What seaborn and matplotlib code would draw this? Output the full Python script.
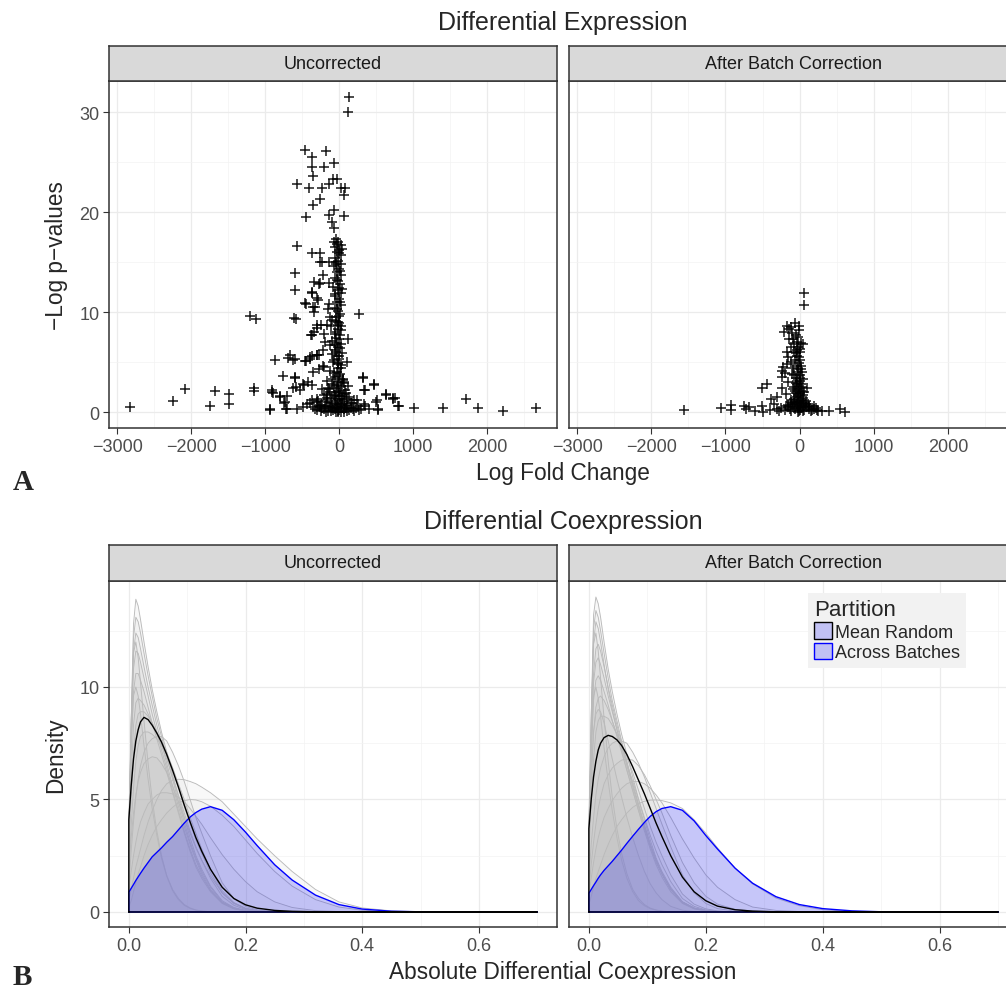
import pandas as pd
import seaborn as sns
import matplotlib.pyplot as plt
from matplotlib.patches import Patch
from matplotlib.ticker import MultipleLocator, FormatStrFormatter

# ---------------- data ----------------
# Differential expression: (log fold change, -log p) for each gene
unc_points = [
    (-2831, 0.5), (-2239, 1.1), (-2085, 2.3), (-1748, 0.6), (-1680, 2.1), (-1493, 1.8), (-1483, 0.8),
    (-1208, 9.6), (-1127, 9.3), (-1146, 2.4), (-1146, 2.1), (-939, 0.3), (-910, 2.2), (-891, 1.9),
    (-871, 5.2), (-804, 1.6), (-761, 3.6), (-746, 0.9), (-722, 0.3), (-684, 5.4), (-664, 5.7),
    (-602, 5.3), (-602, 13.9), (-602, 12.2), (-616, 9.4), (-578, 9.3), (-563, 16.6), (-563, 22.8),
    (-597, 3.4), (-583, 2.5), (-467, 26.2), (-361, 25.5), (-361, 24.5), (-351, 23.6), (-448, 19.5),
    (-409, 22.4), (-351, 20.7), (-260, 21.3), (-178, 26.1), (-207, 24.5), (-231, 22.4), (-130, 22.8),
    (-63, 24.9), (-77, 23.3), (-34, 23.3), (24, 22.4), (82, 22.4), (63, 21.7), (-63, 20.2), (63, 19.6),
    (-135, 19.7), (-96, 19.0), (-72, 18.4), (135, 31.5), (125, 30.0),
    (-361, 15.9), (-260, 15.9), (-255, 15.0), (-135, 15.0), (-337, 13.0), (-274, 12.8), (-371, 11.9),
    (-457, 10.9), (-351, 10.5), (-299, 11.4), (-376, 7.7), (-337, 8.0), (-303, 8.7), (-250, 8.7),
    (-207, 7.8), (265, 9.8), (-453, 5.1), (-395, 5.3), (-366, 5.6), (-303, 5.7), (-274, 5.7),
    (-217, 6.2), (-202, 4.5), (-347, 4.0), (-419, 3.0), (-481, 2.7), (323, 3.4), (347, 2.2),
    (477, 2.7), (640, 1.7), (722, 1.4), (761, 1.4), (804, 0.6), (1011, 0.4), (1406, 0.4), (1714, 1.3),
    (1878, 0.4), (2220, 0.1), (2667, 0.4), (530, 0.3), (506, 1.2),
    (-234, 15.0), (-216, 13.7), (-257, 12.9), (-369, 12.0), (-446, 10.8), (-324, 10.5), (-288, 11.2),
    (-338, 10.0), (-144, 10.3), (-122, 9.5), (-369, 7.7), (-302, 8.4), (-158, 8.7), (-189, 7.0),
    (-122, 6.7), (126, 7.3), (104, 5.0), (59, 3.3), (329, 3.5), (473, 2.8), (342, 2.2), (635, 1.8),
    (733, 1.3), (802, 0.6), (-595, 3.5), (-617, 5.2), (-459, 5.1), (-392, 5.5), (-302, 5.7),
    (-266, 4.3), (-212, 4.6), (-617, 2.4), (-527, 2.2), (-482, 2.8), (-369, 2.7), (-698, 1.6),
    (-797, 1.5), (-910, 2.0), (-730, 1.0), (-707, 0.3), (-572, 0.3), (-482, 0.5), (-932, 0.25),
    (-302, 1.3), (-257, 0.5), (-369, 1.2), (-437, 0.8), (-167, 1.8), (239, 1.2), (342, 0.8),
    (500, 1.0), (410, 0.3), (522, 0.25),
    (-40, 17.3), (-10, 17.0), (20, 16.7), (-60, 16.5), (0, 16.2), (-30, 16.0), (30, 15.7), (-50, 15.4),
    (-10, 15.1), (20, 14.8), (-70, 14.6), (0, 14.3), (-30, 14.0), (30, 13.7), (-50, 13.4), (-10, 13.1),
    (10, 12.8), (-80, 12.5), (-20, 12.2), (20, 11.9), (-50, 11.6), (0, 11.3), (-30, 11.0), (30, 10.7),
    (-60, 10.4), (-10, 10.1), (10, 9.8), (-40, 9.5), (-90, 9.2), (0, 8.9), (30, 8.6), (-20, 8.3),
    (-60, 8.0), (10, 7.7), (-40, 7.4), (-100, 7.1), (20, 6.8), (-10, 6.5), (-60, 6.2), (40, 5.9),
    (-30, 5.6), (0, 5.3), (-80, 5.0), (30, 4.7), (-20, 4.4), (-120, 4.1), (10, 3.8), (-50, 3.5),
    (50, 3.2), (-10, 3.0), (-90, 2.8), (20, 2.6), (-150, 2.4), (80, 2.2), (-40, 2.0), (0, 1.9),
    (-200, 1.7), (40, 1.6), (130, 1.5), (-100, 1.4), (-20, 1.3), (200, 1.2), (70, 1.1), (-160, 1.0),
    (10, 0.9), (-60, 0.8), (-250, 0.7), (110, 0.7), (250, 0.6), (-120, 0.5), (30, 0.5), (-30, 0.4),
    (160, 0.4), (-200, 0.3), (60, 0.3), (-80, 0.2), (0, 0.2), (-300, 0.2), (300, 0.3), (100, 0.1),
    (-150, 0.1), (20, 0.05), (-40, 0.05), (200, 0.1), (-250, 0.1), (-350, 0.5), (350, 0.6), (-10, 0.0),
    (-280, 1.1), (170, 0.9), (-60, 1.6), (60, 2.9), (-70, 3.9), (-20, 4.9), (-50, 6.7), (-20, 9.0),
    (40, 12.3), (-40, 14.8), (-70, 17.0), (40, 16.3), (-90, 5.8), (-110, 8.6), (-140, 10.8),
    (-130, 12.9), (-160, 3.1), (-120, 2.0), (-180, 1.2), (120, 2.6), (90, 1.9), (-230, 2.3),
    (-300, 1.0), (230, 0.4),
    (-25, 16.8), (5, 15.9), (-45, 15.0), (15, 14.1), (-35, 13.2), (-5, 12.4), (-55, 11.8), (15, 11.0),
    (-25, 10.3), (5, 9.6), (-45, 9.1), (-15, 8.7), (25, 8.2), (-55, 7.8), (-5, 7.3), (-25, 6.9),
    (15, 6.4), (-45, 6.0), (5, 5.6), (-65, 5.2), (-15, 4.8), (25, 4.4), (-35, 4.0), (-5, 3.6),
    (-85, 3.3), (35, 3.0), (-25, 2.7), (-130, 2.3), (5, 2.1), (60, 1.8), (-70, 1.7), (-170, 1.4),
    (100, 1.3), (-40, 1.1), (160, 0.9), (-110, 0.9), (40, 0.8), (-190, 0.6), (80, 0.6), (-10, 0.55),
    (190, 0.3), (-60, 0.35), (-230, 0.4), (130, 0.2), (-110, 0.15), (-20, 0.15), (60, 0.05),
    (-180, 0.05), (270, 0.2), (-330, 0.3), (-15, 2.4), (-65, 2.6), (35, 1.3), (-140, 0.6), (-90, 0.45),
    (10, 1.6), (-30, 0.7), (90, 0.4), (-270, 0.6), (-400, 0.9),
]

bc_points = [
    (-1561, 0.2), (-1066, 0.4), (-922, 0.7), (-931, 0.2), (-751, 0.6), (-729, 0.3), (-684, 0.5),
    (-603, 0.1), (-504, 2.4), (-436, 2.8), (-508, 0.6), (-495, 0.0), (-391, 1.3), (-301, 1.5),
    (-243, 2.4), (-243, 4.1), (-234, 3.5), (-220, 4.5), (-211, 8.0), (-175, 8.6), (-139, 8.3),
    (-121, 8.5), (-58, 8.9), (-13, 8.6), (-144, 7.3), (-90, 7.3), (-22, 7.5), (13, 6.9), (45, 6.8),
    (-175, 6.0), (-121, 6.5), (58, 11.9), (58, 10.7), (103, 2.4), (238, 0.2), (306, 0.1), (400, 0.1),
    (544, 0.3), (607, 0.0), (216, 0.4), (126, 0.6),
    (-20, 6.5), (0, 6.0), (-30, 5.6), (10, 5.2), (-10, 4.9), (-40, 4.6), (20, 4.3), (-20, 4.0),
    (0, 3.7), (-50, 3.4), (10, 3.1), (-30, 2.8), (30, 2.5), (-10, 2.3), (-60, 2.1), (0, 1.9),
    (40, 1.7), (-30, 1.5), (-80, 1.3), (20, 1.2), (-10, 1.0), (60, 0.9), (-100, 0.8), (0, 0.7),
    (-40, 0.6), (90, 0.5), (-150, 0.5), (20, 0.4), (-60, 0.3), (130, 0.3), (-200, 0.2), (0, 0.2),
    (40, 0.1), (-20, 0.05), (-250, 0.4), (170, 0.2), (-120, 1.0), (80, 1.1), (-80, 2.5), (-100, 3.8),
    (50, 3.3), (-120, 5.0), (-70, 6.0), (-150, 3.0), (-180, 1.8), (-300, 0.3), (-350, 0.8),
    (-400, 0.2), (200, 0.6), (250, 0.1), (-40, 7.0), (10, 6.3), (-60, 5.2), (30, 4.0), (-90, 4.4),
    (-50, 2.9), (-20, 1.8), (60, 2.0), (-70, 0.9), (110, 0.8), (-130, 0.3), (30, 0.9),
    (-30, 6.2), (-10, 5.5), (-50, 5.9), (15, 4.6), (-25, 4.3), (-70, 3.7), (5, 3.4), (-40, 3.1),
    (25, 2.8), (-15, 2.6), (-90, 2.3), (15, 2.1), (-50, 1.9), (-25, 1.6), (50, 1.4), (-110, 1.2),
    (5, 1.1), (-60, 1.0), (80, 0.8), (-30, 0.8), (-160, 0.7), (40, 0.6), (-90, 0.5), (120, 0.5),
    (-20, 0.4), (-120, 0.15), (60, 0.25), (-280, 0.1), (150, 0.1), (-10, 0.1), (-190, 0.6),
    (190, 0.3), (-55, 7.7), (-5, 8.2), (-100, 7.9), (-80, 6.8), (-150, 5.5), (-170, 4.8), (-200, 3.9),
]

# Differential coexpression: density curves sampled on a common grid
grid = [0, .004, .008, .012, .016, .02, .026, .033, .04, .048, .056, .065, .075, .085, .095, .105,
        .115, .125, .14, .16, .18, .2, .22, .25, .28, .32, .36, .4, .45, .5, .6, .7]

unc_black = [4.1, 5.6, 6.8, 7.6, 8.1, 8.45, 8.65, 8.55, 8.3, 7.95, 7.55, 7.0, 6.3, 5.55, 4.75, 4.0,
             3.3, 2.7, 1.9, 1.1, 0.6, 0.32, 0.17, 0.07, 0.03, 0.01]
unc_blue = [0.88, 1.05, 1.22, 1.4, 1.56, 1.72, 1.95, 2.2, 2.45, 2.65, 2.85, 3.1, 3.35, 3.65, 3.95,
            4.22, 4.42, 4.57, 4.68, 4.52, 4.1, 3.55, 2.95, 2.1, 1.42, 0.75, 0.33, 0.13, 0.035, 0.008]
unc_gray = [
    [3.0, 8.5, 12.8, 13.9, 13.6, 13.0, 12.0, 10.9, 9.9, 8.9, 8.0, 7.1, 6.1, 5.1, 4.2, 3.3, 2.5, 1.9, 1.15, 0.5, 0.2, 0.07, 0.02],
    [3.2, 8.3, 12.2, 13.1, 12.9, 12.4, 11.5, 10.5, 9.6, 8.6, 7.8, 6.9, 5.9, 4.9, 4.0, 3.1, 2.4, 1.8, 1.1, 0.45, 0.18, 0.06, 0.02],
    [3.4, 8.0, 11.6, 12.4, 12.2, 11.7, 10.9, 10.0, 9.2, 8.3, 7.5, 6.6, 5.6, 4.7, 3.8, 3.0, 2.3, 1.7, 1.0, 0.42, 0.16, 0.05, 0.02],
    [3.5, 7.6, 10.8, 11.6, 11.5, 11.1, 10.4, 9.6, 8.8, 8.0, 7.2, 6.4, 5.4, 4.5, 3.6, 2.8, 2.1, 1.6, 0.95, 0.4, 0.15, 0.05, 0.01],
    [3.6, 7.2, 9.8, 10.6, 10.6, 10.3, 9.8, 9.1, 8.4, 7.7, 7.0, 6.2, 5.3, 4.4, 3.5, 2.7, 2.0, 1.5, 0.9, 0.38, 0.14, 0.05, 0.01],
    [3.0, 6.0, 8.3, 9.3, 9.5, 9.4, 9.2, 8.8, 8.4, 7.9, 7.4, 6.8, 6.0, 5.2, 4.4, 3.6, 2.9, 2.3, 1.5, 0.7, 0.3, 0.11, 0.04, 0.01],
    [2.5, 5.0, 7.0, 8.3, 8.8, 8.9, 8.9, 8.7, 8.4, 8.0, 7.6, 7.1, 6.4, 5.6, 4.8, 4.0, 3.2, 2.6, 1.75, 0.85, 0.38, 0.15, 0.05, 0.01],
    [1.8, 3.8, 5.5, 6.7, 7.4, 7.8, 8.0, 8.0, 7.9, 7.7, 7.4, 7.0, 6.4, 5.7, 5.0, 4.2, 3.5, 2.8, 1.9, 0.95, 0.42, 0.17, 0.06, 0.01],
    [1.2, 2.7, 4.0, 5.1, 5.9, 6.5, 7.1, 7.5, 7.7, 7.8, 7.8, 7.6, 7.1, 6.5, 5.8, 5.0, 4.2, 3.5, 2.5, 1.3, 0.6, 0.25, 0.1, 0.02],
    [0.5, 1.0, 1.5, 2.0, 2.4, 2.8, 3.4, 4.0, 4.5, 5.0, 5.4, 5.7, 5.85, 5.9, 5.88, 5.8, 5.7, 5.55, 5.3, 4.9, 4.35, 3.8, 3.25, 2.5, 1.8, 1.0, 0.45, 0.18, 0.05, 0.01],
    [1.0, 1.8, 2.5, 3.1, 3.6, 4.0, 4.4, 4.8, 5.0, 5.2, 5.3, 5.3, 5.25, 5.1, 4.9, 4.6, 4.25, 3.9, 3.3, 2.55, 1.9, 1.35, 0.9, 0.45, 0.2, 0.06, 0.02],
    [0.2, 0.5, 0.9, 1.3, 1.7, 2.0, 2.5, 3.0, 3.4, 3.8, 4.1, 4.4, 4.65, 4.85, 4.95, 5.0, 4.98, 4.9, 4.7, 4.3, 3.8, 3.2, 2.6, 1.8, 1.15, 0.55, 0.22, 0.08, 0.02],
    [2.0, 3.3, 4.4, 5.2, 5.8, 6.2, 6.6, 6.8, 6.9, 6.85, 6.6, 6.2, 5.6, 4.9, 4.2, 3.5, 2.85, 2.3, 1.6, 0.85, 0.4, 0.16, 0.06, 0.01],
    [4.0, 8.5, 11.5, 12.0, 11.3, 10.2, 8.5, 6.6, 5.0, 3.6, 2.5, 1.6, 0.95, 0.55, 0.3, 0.16, 0.08, 0.04, 0.01],
    [3.8, 7.5, 9.6, 10.0, 9.6, 8.8, 7.4, 5.9, 4.6, 3.4, 2.4, 1.6, 1.0, 0.6, 0.33, 0.18, 0.09, 0.04, 0.01],
]

bc_black = [3.7, 5.0, 6.0, 6.7, 7.2, 7.5, 7.75, 7.85, 7.8, 7.65, 7.4, 7.0, 6.45, 5.85, 5.25, 4.6,
            3.95, 3.35, 2.5, 1.55, 0.9, 0.5, 0.26, 0.1, 0.04, 0.01]
bc_blue = [0.83, 1.0, 1.17, 1.33, 1.5, 1.65, 1.85, 2.05, 2.25, 2.5, 2.75, 3.05, 3.37, 3.68, 3.98, 4.25,
           4.46, 4.6, 4.68, 4.52, 4.05, 3.4, 2.8, 1.95, 1.28, 0.68, 0.33, 0.15, 0.05, 0.01]
bc_gray = [
    [3.0, 8.6, 13.2, 14.0, 13.7, 13.1, 12.0, 10.8, 9.8, 8.8, 7.9, 7.0, 6.0, 5.0, 4.1, 3.2, 2.4, 1.8, 1.1, 0.45, 0.18, 0.06, 0.02],
    [3.1, 8.3, 12.6, 13.4, 13.1, 12.5, 11.5, 10.4, 9.4, 8.5, 7.6, 6.7, 5.7, 4.8, 3.9, 3.0, 2.3, 1.7, 1.0, 0.42, 0.16, 0.05, 0.02],
    [3.3, 7.5, 10.6, 11.7, 11.9, 11.6, 10.9, 10.0, 9.2, 8.3, 7.5, 6.6, 5.6, 4.7, 3.8, 3.0, 2.3, 1.7, 1.0, 0.42, 0.16, 0.05, 0.02],
    [3.5, 7.3, 10.2, 11.1, 11.3, 11.0, 10.4, 9.6, 8.9, 8.1, 7.4, 6.5, 5.6, 4.7, 3.8, 3.0, 2.3, 1.7, 1.05, 0.45, 0.17, 0.06, 0.02],
    [3.4, 6.8, 9.4, 10.3, 10.5, 10.3, 9.8, 9.2, 8.5, 7.8, 7.1, 6.3, 5.4, 4.5, 3.7, 2.9, 2.2, 1.7, 1.0, 0.45, 0.17, 0.06, 0.02],
    [3.0, 5.8, 8.0, 9.1, 9.5, 9.6, 9.4, 9.0, 8.5, 7.9, 7.3, 6.6, 5.8, 5.0, 4.2, 3.4, 2.7, 2.1, 1.35, 0.6, 0.25, 0.09, 0.03],
    [2.6, 4.9, 6.8, 8.0, 8.5, 8.7, 8.7, 8.6, 8.3, 7.9, 7.5, 6.9, 6.2, 5.4, 4.6, 3.8, 3.1, 2.5, 1.65, 0.8, 0.35, 0.14, 0.05, 0.01],
    [1.5, 3.0, 4.2, 5.2, 5.9, 6.4, 6.9, 7.3, 7.5, 7.6, 7.6, 7.5, 7.1, 6.6, 6.0, 5.3, 4.6, 3.9, 2.9, 1.65, 0.85, 0.38, 0.15, 0.04, 0.01],
    [1.0, 2.1, 3.1, 3.9, 4.6, 5.1, 5.7, 6.1, 6.4, 6.6, 6.75, 6.8, 6.75, 6.5, 6.1, 5.6, 5.0, 4.4, 3.4, 2.2, 1.3, 0.7, 0.35, 0.12, 0.04, 0.01],
    [0.3, 0.7, 1.1, 1.5, 1.8, 2.1, 2.55, 3.0, 3.4, 3.8, 4.1, 4.4, 4.65, 4.82, 4.92, 4.97, 4.98, 4.95, 4.85, 4.6, 4.1, 3.5, 2.85, 1.95, 1.25, 0.62, 0.28, 0.1, 0.03, 0.01],
    [0.8, 1.5, 2.2, 2.8, 3.3, 3.7, 4.2, 4.6, 4.95, 5.25, 5.5, 5.7, 5.8, 5.8, 5.7, 5.5, 5.2, 4.85, 4.2, 3.25, 2.4, 1.65, 1.1, 0.55, 0.22, 0.07, 0.02],
    [4.0, 8.8, 11.9, 12.4, 11.6, 10.4, 8.6, 6.7, 5.1, 3.7, 2.6, 1.7, 1.0, 0.6, 0.33, 0.17, 0.09, 0.04, 0.01],
    [3.8, 7.4, 9.6, 10.0, 9.5, 8.7, 7.3, 5.8, 4.5, 3.3, 2.3, 1.5, 0.9, 0.5, 0.28, 0.15, 0.08, 0.03, 0.01],
    [3.2, 6.0, 8.0, 8.8, 9.0, 8.9, 8.4, 7.6, 6.8, 5.9, 5.1, 4.2, 3.3, 2.5, 1.8, 1.25, 0.85, 0.55, 0.25, 0.08, 0.02],
    [3.2, 8.0, 12.0, 12.9, 12.6, 12.0, 11.0, 9.9, 9.0, 8.1, 7.2, 6.3, 5.4, 4.5, 3.6, 2.8, 2.1, 1.55, 0.9, 0.38, 0.14, 0.05, 0.01],
]

facets = ["Uncorrected", "After Batch Correction"]
legend_labels = ["Mean Random", "Across Batches"]

# ---------------- styling ----------------
sns.set_theme(style="white")
plt.rcParams["font.family"] = ["Liberation Sans", "DejaVu Sans"]

W, H = 1006, 995
fig = plt.figure(figsize=(W / 100, H / 100), dpi=100)

BORDER = "#333333"
TICKTXT = "#4d4d4d"


def px_axes(x0, y0, x1, y1):
    return fig.add_axes([x0 / W, 1 - y1 / H, (x1 - x0) / W, (y1 - y0) / H])


def strip(x0, y0, x1, y1, label):
    s = px_axes(x0, y0, x1, y1)
    s.set_facecolor("#d9d9d9")
    s.set_xticks([])
    s.set_yticks([])
    for sp in s.spines.values():
        sp.set_color(BORDER)
        sp.set_linewidth(1.1)
    s.text(0.5, 0.5, label, transform=s.transAxes, ha="center", va="center",
           fontsize=13, color="#1a1a1a")


def style_panel(ax, show_y):
    ax.set_facecolor("white")
    ax.set_axisbelow(True)
    ax.grid(which="major", color="#ebebeb", linewidth=0.9)
    ax.grid(which="minor", color="#f3f3f3", linewidth=0.5)
    for sp in ax.spines.values():
        sp.set_visible(True)
        sp.set_color(BORDER)
        sp.set_linewidth(1.1)
    ax.tick_params(which="major", length=4, width=0.8, color=BORDER, labelcolor=TICKTXT,
                   labelsize=13, pad=3, bottom=True, left=show_y, labelleft=show_y)
    ax.tick_params(which="minor", length=0)
    ax.set_xlabel("")
    ax.set_ylabel("")


def pad(v):
    return v + [0.0] * (len(grid) - len(v))


# ---------------- A: volcano panels ----------------
top = [(109, 82, 557, 429), (569, 82, 1018, 429)]
for k, (pts, box) in enumerate(zip([unc_points, bc_points], top)):
    df = pd.DataFrame(pts, columns=["lfc", "logp"])
    ax = px_axes(*box)
    sns.scatterplot(data=df, x="lfc", y="logp", marker="+", color="black", s=44,
                    linewidth=1.1, alpha=0.9, ax=ax, legend=False)
    ax.set_xlim(-3110, 2945)
    ax.set_ylim(-1.6, 33.1)
    ax.xaxis.set_major_locator(MultipleLocator(1000))
    ax.xaxis.set_minor_locator(MultipleLocator(500))
    ax.yaxis.set_major_locator(MultipleLocator(10))
    ax.yaxis.set_minor_locator(MultipleLocator(5))
    style_panel(ax, k == 0)
    strip(box[0], 47, box[2], 82, facets[k])

# ---------------- B: density panels ----------------
bottom = [(109, 582, 557, 928), (569, 582, 1018, 928)]
sets = [(unc_gray, unc_black, unc_blue), (bc_gray, bc_black, bc_blue)]
closed_x = [0] + grid + [0]
for k, ((grays, black, blue), box) in enumerate(zip(sets, bottom)):
    ax = px_axes(*box)
    for g in grays:
        y = pad(g)
        ax.fill_between(grid, y, color="#bebebe", alpha=0.1, linewidth=0, zorder=2)
        sns.lineplot(x=closed_x, y=[0] + y + [0], sort=False, estimator=None, color="#bababa",
                     linewidth=0.65, ax=ax, zorder=3)
    yb = pad(blue)
    ax.fill_between(grid, yb, color="blue", alpha=0.2, linewidth=0, zorder=4)
    sns.lineplot(x=closed_x, y=[0] + yb + [0], sort=False, estimator=None, color="blue",
                 linewidth=1.0, ax=ax, zorder=5)
    yk = pad(black)
    sns.lineplot(x=closed_x, y=[0] + yk + [0], sort=False, estimator=None, color="black",
                 linewidth=1.0, ax=ax, zorder=6)
    ax.set_xlim(-0.034, 0.734)
    ax.set_ylim(-0.667, 14.71)
    ax.xaxis.set_major_locator(MultipleLocator(0.2))
    ax.xaxis.set_minor_locator(MultipleLocator(0.1))
    ax.xaxis.set_major_formatter(FormatStrFormatter("%.1f"))
    ax.yaxis.set_major_locator(MultipleLocator(5))
    ax.yaxis.set_minor_locator(MultipleLocator(2.5))
    style_panel(ax, k == 0)
    strip(box[0], 546, box[2], 582, facets[k])
    if k == 1:
        handles = [Patch(facecolor=(0, 0, 1, 0.2), edgecolor="black", linewidth=1.0),
                   Patch(facecolor=(0, 0, 1, 0.2), edgecolor="blue", linewidth=1.0)]
        leg = ax.legend(handles, legend_labels, title="Partition", loc="upper left",
                        bbox_to_anchor=(808 / W, 1 - 594 / H), bbox_transform=fig.transFigure,
                        fontsize=13, title_fontsize=16, handlelength=1.0, handleheight=1.0,
                        handletextpad=0.15, labelspacing=0.12, borderpad=0.35,
                        borderaxespad=0, frameon=True, fancybox=False, alignment="left")
        leg.get_frame().set_facecolor("#f2f2f2")
        leg.get_frame().set_edgecolor("none")
        leg.get_frame().set_alpha(1)

# ---------------- titles and labels ----------------
fig.text(563 / W, 1 - 23 / H, "Differential Expression", ha="center", va="center", fontsize=18)
fig.text(563 / W, 1 - 522 / H, "Differential Coexpression", ha="center", va="center", fontsize=18)
fig.text(563 / W, 1 - 474 / H, "Log Fold Change", ha="center", va="center", fontsize=16.3)
fig.text(563 / W, 1 - 973 / H, "Absolute Differential Coexpression", ha="center", va="center", fontsize=16.3)
fig.text(56 / W, 1 - 256 / H, "\u2212Log p\u2212values", ha="center", va="center", rotation=90, fontsize=16.3)
fig.text(56 / W, 1 - 755 / H, "Density", ha="center", va="center", rotation=90, fontsize=16.3)
fig.text(23 / W, 1 - 483 / H, "A", ha="center", va="center", fontsize=21, fontweight="bold",
         family=["Liberation Serif", "DejaVu Serif"])
fig.text(22 / W, 1 - 978 / H, "B", ha="center", va="center", fontsize=21, fontweight="bold",
         family=["Liberation Serif", "DejaVu Serif"])

fig.savefig("out.png", dpi=100)
